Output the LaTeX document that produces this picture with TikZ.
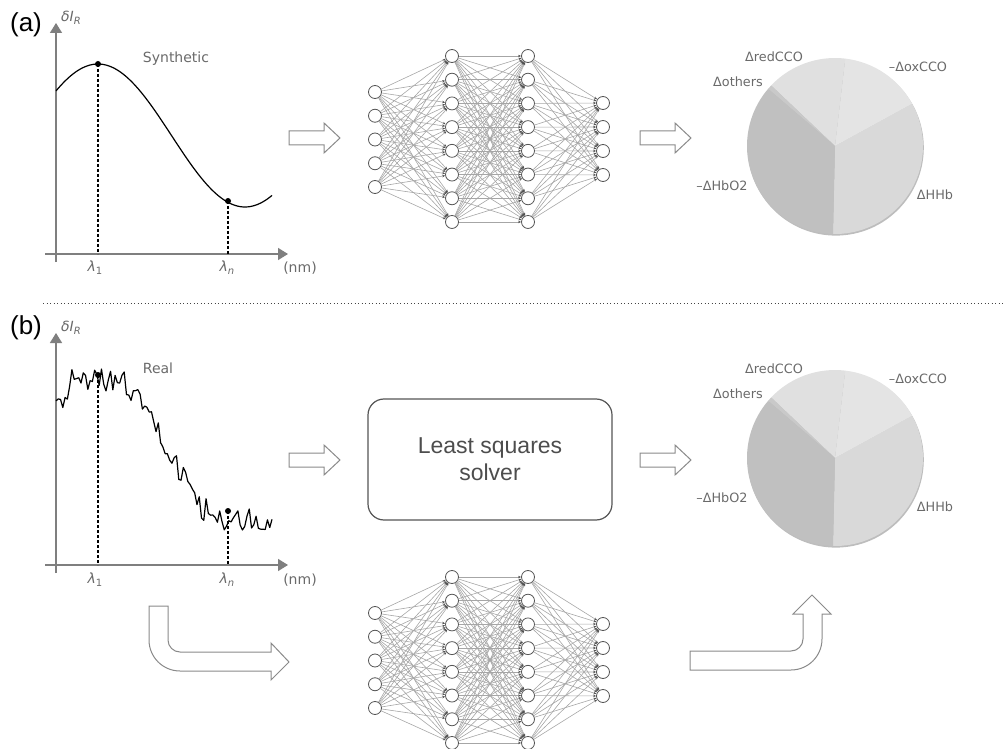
\documentclass[tikz,border=0pt]{standalone}
\usepackage{fontspec}
\setmainfont{DejaVu Sans}
\newfontfamily\lsans{Liberation Sans}
\usetikzlibrary{arrows.meta}

\definecolor{labgray}{HTML}{6A6A6A}
\definecolor{axgray}{HTML}{7F7F7F}
\definecolor{nodegray}{HTML}{555555}
\definecolor{edgegray}{HTML}{A6A6A6}
\definecolor{tipgray}{HTML}{505050}
\definecolor{arrgray}{HTML}{8A8A8A}
\definecolor{boxgray}{HTML}{555555}
\definecolor{boxtext}{HTML}{4D4D4D}
\definecolor{sepgray}{HTML}{444444}
\definecolor{cHHb}{HTML}{D9D9D9}
\definecolor{cox}{HTML}{E4E4E4}
\definecolor{cred}{HTML}{E0E0E0}
\definecolor{coth}{HTML}{C9C9C9}
\definecolor{chbo}{HTML}{C0C0C0}
\definecolor{rimgray}{HTML}{BDBDBD}

\newcommand\lowidx[1]{\raisebox{-0.35ex}{\fontsize{10}{12}\selectfont #1}}

% pie of the chromophore contributions, centred at (835,#1)
\newcommand\chromopie[1]{%
  \begin{scope}[shift={(835,#1)}, yscale=-1]
    \fill[rimgray] (0.8,-1.6) circle[radius=88];
    \fill[cHHb] (0,0) -- (-91.3:88) arc[start angle=-91.3, end angle=28.7, radius=88] -- cycle;
    \fill[cox]  (0,0) -- (28.7:88)  arc[start angle=28.7,  end angle=83.3,  radius=88] -- cycle;
    \fill[cred] (0,0) -- (83.3:88)  arc[start angle=83.3,  end angle=136.5, radius=88] -- cycle;
    \fill[coth] (0,0) -- (136.5:88) arc[start angle=136.5, end angle=139.5, radius=88] -- cycle;
    \fill[chbo] (0,0) -- (139.5:88) arc[start angle=139.5, end angle=268.7, radius=88] -- cycle;
  \end{scope}}

\tikzset{
  axis/.style={draw=axgray, line width=1.4pt, -{Triangle[length=10pt,width=12pt]}},
  curve/.style={draw=black, line width=1.2pt, line join=round},
  guide/.style={draw=black, line width=1.1pt, dash pattern=on 3pt off 2pt},
  dotmark/.style={fill=black},
  lbl/.style={text=labgray, font=\fontsize{14}{16}\selectfont, inner sep=0pt},
  pielbl/.style={text=labgray, font=\fontsize{12.8}{15}\selectfont, inner sep=0pt},
  panel/.style={text=black, font=\lsans\fontsize{26}{29}\selectfont, inner sep=0pt},
  neuron/.style={circle, draw=nodegray, fill=white, line width=0.8pt, minimum size=13pt, inner sep=0pt},
  edge/.style={draw=edgegray, line width=0.6pt, -{Stealth[length=3pt,width=2.4pt,color=tipgray]}},
  hollow/.style={draw=arrgray, fill=white, line width=1pt, line join=miter},
  lsbox/.style={draw=boxgray, line width=1.2pt, rounded corners=16pt, text=boxtext,
    minimum width=244pt, minimum height=121pt, align=center,
    font=\lsans\fontsize{23}{27}\selectfont},
  sepline/.style={draw=sepgray, line width=1pt, dash pattern=on 1pt off 2.5pt},
  harrow/.pic={\path[hollow] (0,-7) -- (35,-7) -- (35,-15) -- (51,0) -- (35,15) -- (35,7) -- (0,7) -- cycle;}
}

\begin{document}
\begin{tikzpicture}[x=1pt, y=-1pt]
\useasboundingbox (0,0) rectangle (1005,749);

% ---------- (a) synthetic spectrum ----------
\node[panel] (pa) at (26,25) {(a)};
\draw[axis] (56,262) -- (56,23);
\draw[axis] (45,254) -- (288,254);
\node[lbl] (ya) at (71,18) {\textit{δI}\lowidx{\textit{R}}};
\node[lbl] (syn) at (176,59) {Synthetic};
\draw[curve] plot[domain=56:272, samples=90, smooth] (\x,{135.5-71.5*cos((\x-98)*1.22449)});
\coordinate (a1) at (98,64);   \coordinate (a1f) at (98,254);
\coordinate (an) at (228,201); \coordinate (anf) at (228,254);
\draw[guide] (a1) -- (a1f);
\draw[guide] (an) -- (anf);
\fill[dotmark] (a1) circle[radius=3pt];
\fill[dotmark] (an) circle[radius=3pt];
\node[lbl] (la1) at (95,268) {\textit{λ}\lowidx{1}};
\node[lbl] (lan) at (227,268) {\textit{λ}\lowidx{\textit{n}}};
\node[lbl] (nma) at (300,268) {(nm)};

% ---------- (b) measured spectrum ----------
\node[panel] (pb) at (26,328) {(b)};
\draw[axis] (56,573) -- (56,333);
\draw[axis] (45,565) -- (288,565);
\node[lbl] (yb) at (71,328) {\textit{δI}\lowidx{\textit{R}}};
\node[lbl] (real) at (158,368) {Real};
\pgfmathsetseed{23}
\draw[curve] plot[domain=56:272, samples=96]
  (\x,{382+67.5*(1-cos(180*max(0,min(1,(\x-115)/105))))+max(0,72-\x)*1.6+13*rand});
\coordinate (b1) at (98,375);  \coordinate (b1f) at (98,565);
\coordinate (bn) at (228,511); \coordinate (bnf) at (228,565);
\draw[guide] (b1) -- (b1f);
\draw[guide] (bn) -- (bnf);
\fill[dotmark] (b1) circle[radius=3pt];
\fill[dotmark] (bn) circle[radius=3pt];
\node[lbl] (lb1) at (95,580) {\textit{λ}\lowidx{1}};
\node[lbl] (lbn) at (227,580) {\textit{λ}\lowidx{\textit{n}}};
\node[lbl] (nmb) at (300,580) {(nm)};

% ---------- separator ----------
\coordinate (sepL) at (43,303);
\coordinate (sepR) at (1003,303);
\draw[sepline] (sepL) -- (sepR);

% ---------- neural networks ----------
\foreach \p/\dy in {A/0,B/521}{
  \foreach \i in {1,...,5} \node[neuron] (\p1-\i) at (375,{92+23.75*(\i-1)+\dy}) {};
  \foreach \i in {1,...,8} \node[neuron] (\p2-\i) at (452,{56+23.71*(\i-1)+\dy}) {};
  \foreach \i in {1,...,8} \node[neuron] (\p3-\i) at (528,{56+23.71*(\i-1)+\dy}) {};
  \foreach \i in {1,...,4} \node[neuron] (\p4-\i) at (603,{103+24*(\i-1)+\dy}) {};
}
\foreach \p in {A,B}{
  \foreach \i in {1,...,5} \foreach \j in {1,...,8} \draw[edge] (\p1-\i) -- (\p2-\j);
  \foreach \i in {1,...,8} \foreach \j in {1,...,8} \draw[edge] (\p2-\i) -- (\p3-\j);
  \foreach \i in {1,...,8} \foreach \j in {1,...,4} \draw[edge] (\p3-\i) -- (\p4-\j);
}

% ---------- least squares solver ----------
\node[lsbox] (ls) at (490,459.5) {Least squares\\solver};

% ---------- hollow arrows ----------
\pic at (289,138) {harrow};
\pic at (640,138) {harrow};
\pic at (289,460) {harrow};
\pic at (640,460) {harrow};

% bent arrow from the measured spectrum into the network
\path[hollow] (149,606) -- (168,606) -- (168,640)
  .. controls (168,646.6) and (173.4,652) .. (180,652)
  -- (271,652) -- (271,643) -- (289,662) -- (271,680) -- (271,671) -- (180,671)
  .. controls (162.9,671) and (149,657.1) .. (149,640) -- cycle;

% bent arrow from the network up to the pie
\path[hollow] (690,651) -- (791,651)
  .. controls (797.6,651) and (803,645.6) .. (803,639)
  -- (803,614) -- (793,614) -- (812,595) -- (831,614) -- (822,614) -- (822,639)
  .. controls (822,656.1) and (808.1,670) .. (791,670)
  -- (690,670) -- cycle;

% ---------- pies ----------
\chromopie{146}
\node[pielbl] (ra) at (774,57) {ΔredCCO};
\node[pielbl] (oa) at (918,67) {–ΔoxCCO};
\node[pielbl] (ta) at (738,82) {Δothers};
\node[pielbl] (ha) at (722,186) {–ΔHbO2};
\node[pielbl] (da) at (935,195) {ΔHHb};

\chromopie{458}
\node[pielbl] (rb) at (774,369) {ΔredCCO};
\node[pielbl] (ob) at (918,379) {–ΔoxCCO};
\node[pielbl] (tb) at (738,394) {Δothers};
\node[pielbl] (hb) at (722,498) {–ΔHbO2};
\node[pielbl] (db) at (935,507) {ΔHHb};
\end{tikzpicture}
\end{document}
